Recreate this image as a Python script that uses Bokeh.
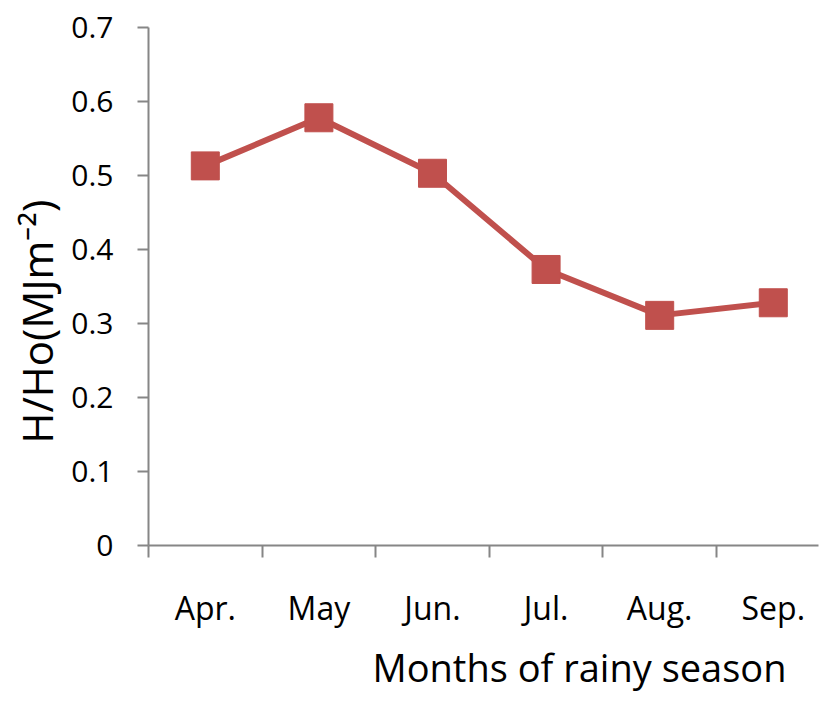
from bokeh.plotting import figure
from bokeh.models import FixedTicker, NumeralTickFormatter, Title, Range1d
from bokeh.embed import file_html
from bokeh.resources import INLINE

months = ["Apr.", "May", "Jun.", "Jul.", "Aug.", "Sep."]
ratio = [0.513, 0.578, 0.503, 0.373, 0.311, 0.328]
y_ticks = [0, 0.1, 0.2, 0.3, 0.4, 0.5, 0.6, 0.7]

FONT = "Open Sans"
RED = "#C0504D"
GREY = "#868686"

xs = list(range(len(months)))

p = figure(width=819, height=699, output_backend="svg", toolbar_location=None,
           x_range=Range1d(-0.5, len(months) - 0.602), y_range=Range1d(0, 0.7),
           min_border_left=148, min_border_right=1, min_border_top=27,
           min_border_bottom=154)
p.outline_line_color = None
p.grid.visible = False
p.background_fill_color = "white"
p.border_fill_color = "white"

p.line(xs, ratio, line_color=RED, line_width=6)
p.scatter(xs, ratio, marker="square", size=28, fill_color=RED, line_color=RED)

# x axis
xa = p.xaxis[0]
xa.ticker = FixedTicker(ticks=xs, minor_ticks=[i - 0.5 for i in range(len(months) + 1)])
xa.major_label_overrides = {i: m for i, m in enumerate(months)}
xa.major_tick_out = 0
xa.major_tick_in = 0
xa.major_tick_line_color = None
xa.minor_tick_out = 12
xa.minor_tick_in = 0
xa.minor_tick_line_color = GREY
xa.minor_tick_line_width = 2
xa.axis_line_color = GREY
xa.axis_line_width = 2
xa.major_label_standoff = 28
xa.major_label_text_font = FONT
xa.major_label_text_font_size = "32px"
xa.major_label_text_color = "black"

# y axis
ya = p.yaxis[0]
ya.ticker = FixedTicker(ticks=y_ticks)
ya.formatter = NumeralTickFormatter(format="0.[0]")
ya.minor_tick_line_color = None
ya.major_tick_out = 11
ya.major_tick_in = 0
ya.major_tick_line_color = GREY
ya.major_tick_line_width = 2
ya.axis_line_color = GREY
ya.axis_line_width = 2
ya.major_label_standoff = 24
ya.major_label_text_font = FONT
ya.major_label_text_font_size = "30px"
ya.major_label_text_color = "black"

ytitle = Title(text="H/Ho(MJm\u207b\u00b2)", align="left", offset=102,
               text_font=FONT, text_font_size="42px", text_font_style="normal",
               text_color="black", standoff=8)
p.add_layout(ytitle, "left")

xtitle = Title(text="Months of rainy season", align="left", offset=224,
               text_font=FONT, text_font_size="38px", text_font_style="normal",
               text_color="black", standoff=14)
p.add_layout(xtitle, "below")

open("out.html", "w").write(file_html(p, INLINE))
